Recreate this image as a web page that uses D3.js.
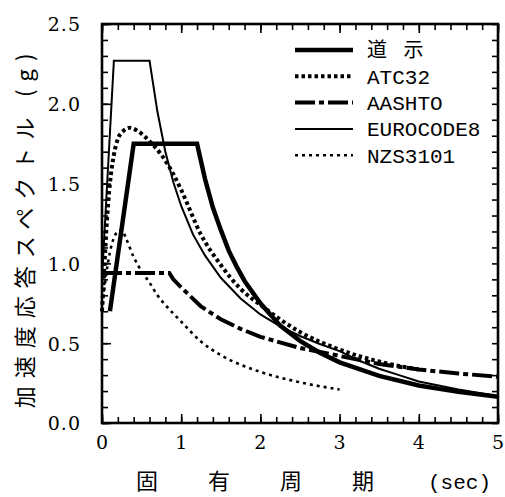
<!DOCTYPE html>
<html>
<head>
<meta charset="utf-8">
<script src="https://cdn.jsdelivr.net/npm/d3@7"></script>
<style>
  body { margin: 0; background: #fff; }
  svg { display: block; }
</style>
</head>
<body>
<div id="chart"></div>
<script>
// 道示
const dojiT  = [0.1, 0.4, 1.2, 1.3, 1.4, 1.5, 1.6, 1.7, 1.8, 2.0, 2.25, 2.5, 2.75, 3.0, 3.5, 4.0, 4.5, 5.0];
const dojiSa = [0.70, 1.75, 1.75, 1.53, 1.35, 1.21, 1.08, 0.98, 0.89, 0.75, 0.61, 0.515, 0.44, 0.38, 0.295, 0.235, 0.195, 0.165];
// ATC32
const atcT  = [0, 0.03, 0.06, 0.1, 0.15, 0.2, 0.27, 0.35, 0.45, 0.55, 0.65, 0.75, 0.9, 1.0, 1.25, 1.5, 1.75, 2.0, 2.5, 3.0, 3.5, 4.0];
const atcSa = [0.70, 0.98, 1.25, 1.50, 1.68, 1.78, 1.83, 1.85, 1.83, 1.79, 1.74, 1.68, 1.56, 1.46, 1.18, 0.99, 0.84, 0.74, 0.57, 0.46, 0.385, 0.335];
// AASHTO
const aashtoT  = [0, 0.85, 0.9, 1.0, 1.25, 1.5, 1.75, 2.0, 2.5, 3.0, 3.5, 4.0, 4.5, 5.0];
const aashtoSa = [0.94, 0.94, 0.90, 0.85, 0.73, 0.65, 0.59, 0.54, 0.47, 0.42, 0.37, 0.335, 0.31, 0.29];
// EUROCODE8
const euroT  = [0, 0.15, 0.6, 0.7, 0.8, 0.9, 1.0, 1.15, 1.3, 1.5, 1.75, 2.0, 2.25, 2.5, 2.75, 3.0, 3.25, 3.5, 3.75, 4.0, 4.5, 5.0];
const euroSa = [0.91, 2.27, 2.27, 1.95, 1.70, 1.51, 1.36, 1.18, 1.05, 0.91, 0.78, 0.68, 0.605, 0.545, 0.495, 0.45, 0.39, 0.34, 0.3, 0.26, 0.21, 0.17];
// NZS3101
const nzsT  = [0, 0.05, 0.1, 0.15, 0.2, 0.25, 0.3, 0.4, 0.5, 0.6, 0.7, 0.8, 1.0, 1.25, 1.5, 1.75, 2.0, 2.5, 3.0];
const nzsSa = [0.70, 0.92, 1.07, 1.16, 1.20, 1.21, 1.16, 1.04, 0.95, 0.88, 0.80, 0.74, 0.635, 0.51, 0.425, 0.365, 0.32, 0.255, 0.21];

const legendNames = ["道 示", "ATC32", "AASHTO", "EUROCODE8", "NZS3101"];
const xTicks = [0, 1, 2, 3, 4, 5];
const yTicks = [0, 0.5, 1.0, 1.5, 2.0, 2.5];

const margin = { top: 24, right: 7, bottom: 74, left: 102 };
const W = 505, H = 497;
const width = W - margin.left - margin.right;
const height = H - margin.top - margin.bottom;

const svg = d3.select("#chart")
  .append("svg")
  .attr("width", W)
  .attr("height", H)
  .append("g")
  .attr("transform", `translate(${margin.left},${margin.top})`);

const x = d3.scaleLinear().domain([0, 5]).range([0, width]);
const y = d3.scaleLinear().domain([0, 2.5]).range([height, 0]);

const series = [
  { name: legendNames[0], T: dojiT, Sa: dojiSa, w: 4.5, dash: null, curve: d3.curveLinear },
  { name: legendNames[1], T: atcT, Sa: atcSa, w: 4, dash: "3.5,3", curve: d3.curveMonotoneX },
  { name: legendNames[2], T: aashtoT, Sa: aashtoSa, w: 4, dash: "20,4,5,4", curve: d3.curveLinear },
  { name: legendNames[3], T: euroT, Sa: euroSa, w: 2, dash: null, curve: d3.curveLinear },
  { name: legendNames[4], T: nzsT, Sa: nzsSa, w: 2.6, dash: "3,4", curve: d3.curveMonotoneX }
];

// ticks, all pointing inward
const minorX = d3.range(0, 5.001, 0.2);
const minorY = d3.range(0, 2.501, 0.1);

svg.append("g").attr("transform", `translate(0,${height})`)
  .call(d3.axisBottom(x).tickValues(minorX).tickSizeInner(-6).tickSizeOuter(0).tickFormat(""));
svg.append("g")
  .call(d3.axisTop(x).tickValues(minorX).tickSizeInner(-6).tickSizeOuter(0).tickFormat(""));
svg.append("g")
  .call(d3.axisLeft(y).tickValues(minorY).tickSizeInner(-6).tickSizeOuter(0).tickFormat(""));
svg.append("g").attr("transform", `translate(${width},0)`)
  .call(d3.axisRight(y).tickValues(minorY).tickSizeInner(-6).tickSizeOuter(0).tickFormat(""));

const xAxis = svg.append("g").attr("class", "major")
  .attr("transform", `translate(0,${height})`)
  .call(d3.axisBottom(x).tickValues(xTicks).tickSizeInner(-9).tickSizeOuter(0).tickPadding(13).tickFormat(d3.format("d")));
svg.append("g").call(d3.axisTop(x).tickValues(xTicks).tickSizeInner(-9).tickSizeOuter(0).tickFormat(""));

const yAxis = svg.append("g").attr("class", "major")
  .call(d3.axisLeft(y).tickValues(yTicks).tickSizeInner(-9).tickSizeOuter(0).tickPadding(21).tickFormat(d3.format(".1f")));

svg.selectAll(".domain").remove();
svg.selectAll(".tick line").attr("stroke", "#000").attr("stroke-width", 1.6);

svg.selectAll(".major text")
  .attr("fill", "#000")
  .style("font-family", "'DejaVu Serif', serif")
  .style("font-size", "19px")
  .style("letter-spacing", "1px");
yAxis.selectAll("text").attr("dy", "0.36em");

// frame
svg.append("rect")
  .attr("width", width).attr("height", height)
  .attr("fill", "none").attr("stroke", "#000").attr("stroke-width", 2.6);

// curves
svg.selectAll(".curve")
  .data(series)
  .enter().append("path")
  .attr("class", "curve")
  .attr("fill", "none")
  .attr("stroke", "#000")
  .attr("stroke-width", d => d.w)
  .attr("stroke-dasharray", d => d.dash)
  .attr("d", d => d3.line().curve(d.curve).x(t => x(t)).y((t, i) => y(d.Sa[i]))(d.T));

// legend
const legend = svg.append("g").attr("transform", "translate(193,26)");
const rows = legend.selectAll("g")
  .data(series)
  .enter().append("g")
  .attr("transform", (d, i) => `translate(0,${i * 26.3})`);
rows.append("line")
  .attr("x1", 0).attr("x2", 58)
  .attr("stroke", "#000")
  .attr("stroke-width", d => d.w)
  .attr("stroke-dasharray", d => d.dash);
rows.append("text")
  .attr("x", 72)
  .attr("dy", "0.36em")
  .attr("fill", "#000")
  .style("font-family", (d, i) => i === 0 ? "'Noto Sans CJK JP', sans-serif" : "'Liberation Mono', monospace")
  .style("font-size", (d, i) => i === 0 ? "20px" : "21px")
  .style("letter-spacing", (d, i) => i === 0 ? "6px" : "0px")
  .text(d => d.name);

// axis titles
svg.append("text")
  .attr("transform", `translate(${25 - margin.left},${203}) rotate(-90)`)
  .attr("text-anchor", "middle")
  .attr("dy", "0.36em")
  .style("font-family", "'Noto Sans CJK JP', sans-serif")
  .style("font-size", "22px")
  .style("letter-spacing", "8px")
  .text("加速度応答スペクトル (g)");

svg.append("text")
  .attr("x", 136 - margin.left)
  .attr("y", 489 - margin.top)
  .style("font-family", "'Noto Sans CJK JP', sans-serif")
  .style("font-size", "22px")
  .style("letter-spacing", "50px")
  .text("固有周期");
svg.append("text")
  .attr("x", 428 - margin.left)
  .attr("y", 489 - margin.top)
  .style("font-family", "'Liberation Mono', monospace")
  .style("font-size", "21px")
  .text("(sec)");
</script>
</body>
</html>
